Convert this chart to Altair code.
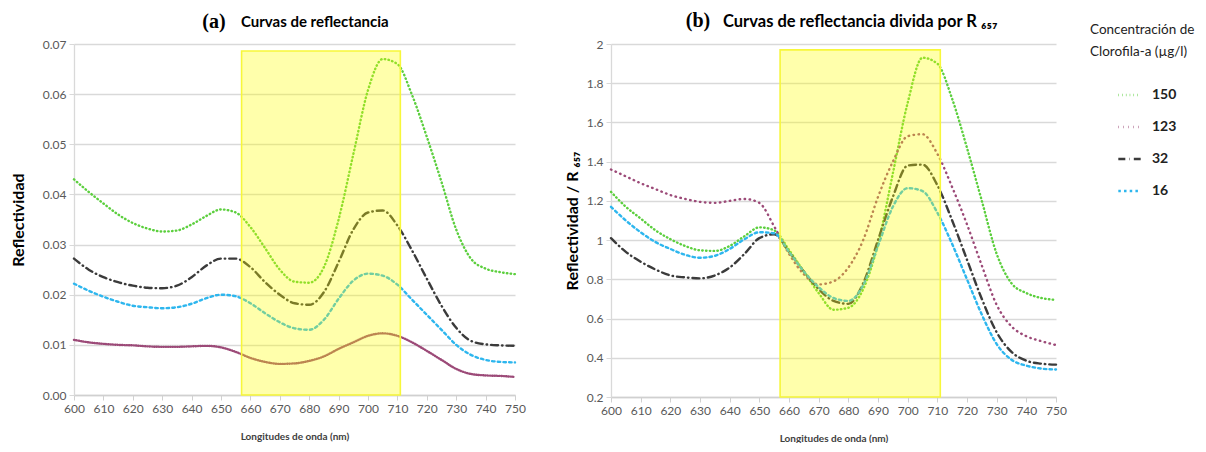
import altair as alt
import pandas as pd

# ---------------- data ----------------
wavelengths = list(range(600, 755, 5))
series_order = ["150", "123", "32", "16"]
series_colors = ["#5CCF3E", "#9C4A78", "#3B3B3B", "#2DB6EE"]
series_dashes = [[0.5, 3.3], [0.5, 4.5], [7, 4, 0.5, 4], [2.5, 3.2]]
dense_dash_123 = [0.5, 1.8]

# panel (a): reflectance
refl_150 = [0.0430, 0.0405, 0.0382, 0.0360, 0.0343, 0.0332, 0.0326, 0.0328, 0.0340, 0.0357,
            0.0370, 0.0364, 0.0335, 0.0293, 0.0250, 0.0226, 0.0224, 0.0255, 0.0350, 0.0480,
            0.0608, 0.0670, 0.0660, 0.0598, 0.0515, 0.0425, 0.0330, 0.0272, 0.0252, 0.0245, 0.0241]
refl_123 = [0.0110, 0.0105, 0.0102, 0.0100, 0.0099, 0.0097, 0.0096, 0.0096, 0.0097, 0.0098,
            0.0095, 0.0086, 0.0074, 0.0066, 0.0062, 0.0063, 0.0068, 0.0077, 0.0092, 0.0105,
            0.0118, 0.0123, 0.0118, 0.0105, 0.0088, 0.0070, 0.0052, 0.0042, 0.0039, 0.0038, 0.0036]
refl_32 = [0.0272, 0.0250, 0.0235, 0.0225, 0.0218, 0.0214, 0.0213, 0.0218, 0.0235, 0.0258,
           0.0272, 0.0272, 0.0255, 0.0225, 0.0200, 0.0183, 0.0180, 0.0205, 0.0265, 0.0330,
           0.0364, 0.0368, 0.0338, 0.0288, 0.0232, 0.0178, 0.0134, 0.0108, 0.0101, 0.0099, 0.0098]
refl_16 = [0.0222, 0.0208, 0.0196, 0.0186, 0.0178, 0.0175, 0.0173, 0.0175, 0.0182, 0.0193,
           0.0200, 0.0197, 0.0183, 0.0163, 0.0145, 0.0133, 0.0130, 0.0150, 0.0192, 0.0228,
           0.0242, 0.0238, 0.0220, 0.0190, 0.0160, 0.0130, 0.0100, 0.0080, 0.0070, 0.0066, 0.0065]

# panel (b): reflectance / R657
ratio_150 = [1.246, 1.17, 1.11, 1.05, 1.005, 0.97, 0.948, 0.945, 0.97, 1.02,
             1.065, 1.05, 0.95, 0.84, 0.73, 0.645, 0.655, 0.75, 0.98, 1.34,
             1.70, 1.93, 1.90, 1.72, 1.47, 1.20, 0.93, 0.78, 0.73, 0.705, 0.695]
ratio_123 = [1.36, 1.325, 1.29, 1.26, 1.23, 1.21, 1.195, 1.19, 1.20, 1.21,
             1.19, 1.07, 0.93, 0.826, 0.774, 0.79, 0.86, 1.00, 1.22, 1.40,
             1.53, 1.54, 1.44, 1.27, 1.08, 0.87, 0.67, 0.56, 0.51, 0.485, 0.465]
ratio_32 = [1.01, 0.94, 0.89, 0.85, 0.82, 0.81, 0.805, 0.82, 0.86, 0.93,
            1.01, 1.03, 0.94, 0.84, 0.75, 0.69, 0.675, 0.78, 1.00, 1.22,
            1.38, 1.385, 1.28, 1.10, 0.90, 0.70, 0.53, 0.43, 0.385, 0.37, 0.365]
ratio_16 = [1.17, 1.10, 1.04, 0.99, 0.955, 0.925, 0.91, 0.92, 0.955, 1.005,
            1.04, 1.035, 0.94, 0.84, 0.76, 0.705, 0.69, 0.77, 0.97, 1.17,
            1.265, 1.25, 1.14, 0.98, 0.80, 0.62, 0.47, 0.39, 0.36, 0.345, 0.34]

# highlighted band
box_x = [657, 711]
box_y_a = [0.0, 0.0686]
box_y_b = [0.2, 1.97]

# axis ticks
x_ticks = list(range(600, 751, 10))
y_ticks_a = [0.0, 0.01, 0.02, 0.03, 0.04, 0.05, 0.06, 0.07]
y_ticks_b = [0.2, 0.4, 0.6, 0.8, 1.0, 1.2, 1.4, 1.6, 1.8, 2.0]

# texts
title_a_tag = "(a)"
title_a_text = "Curvas de reflectancia"
title_b_tag = "(b)"
title_b_text = "Curvas de reflectancia divida por R ₆₅₇"
y_title_a = "Reflectividad"
y_title_b = "Reflectividad / R ₆₅₇"
x_title = "Longitudes de onda (nm)"
legend_title = ["Concentración de", "Clorofila-a (µg/l)"]

FONT = "Lato"


def long_df(series_lists):
    rows = []
    for name, vals in zip(series_order, series_lists):
        for w, v in zip(wavelengths, vals):
            rows.append({"wl": w, "val": v, "serie": name})
    return pd.DataFrame(rows)


df_a = long_df([refl_150, refl_123, refl_32, refl_16])
df_b = long_df([ratio_150, ratio_123, ratio_32, ratio_16])

color_enc = alt.Color(
    "serie:N",
    scale=alt.Scale(domain=series_order, range=series_colors),
    sort=series_order,
    title=legend_title,
)
dash_enc = alt.StrokeDash(
    "serie:N",
    scale=alt.Scale(domain=series_order, range=series_dashes),
    sort=series_order,
    title=legend_title,
)


def x_axis():
    return alt.Axis(
        values=x_ticks, grid=False, title=x_title, labelAngle=0,
        labelOverlap=False, labelFlush=False,
        tickSize=5, labelPadding=3, titlePadding=17,
        titleFontSize=10, titleFontWeight="bold", titleColor="#404040",
        labelFontSize=12, labelColor="#595959",
        domainColor="#D0D0D0", tickColor="#D0D0D0", domainWidth=1.3,
    )


def y_axis(ticks, fmt, title, title_pad):
    return alt.Axis(
        values=ticks, format=fmt, title=title, grid=True,
        labelOverlap=False, labelFlush=False,
        gridColor="#D9D9D9", gridWidth=1.4,
        tickSize=5, labelPadding=3, titlePadding=title_pad,
        titleFontSize=16, titleFontWeight="bold", titleColor="#000000",
        labelFontSize=12, labelColor="#595959",
        domainColor="#D9D9D9", tickColor="#D9D9D9", domainWidth=1.3,
    )


def make_panel(df, dense_df, ydomain, ticks, fmt, ytitle, title_pad, box_y, texts, width, height):
    xs = alt.Scale(domain=[600, 750], nice=False)
    ys = alt.Scale(domain=ydomain, nice=False, zero=False)
    xa = x_axis()
    ya = y_axis(ticks, fmt, ytitle, title_pad)

    layers = []
    base_mark = dict(interpolate="monotone", strokeWidth=2.4, strokeCap="round")
    layers.append(
        alt.Chart(df).mark_line(**base_mark).encode(
            x=alt.X("wl:Q", scale=xs, axis=xa),
            y=alt.Y("val:Q", scale=ys, axis=ya),
            color=color_enc, strokeDash=dash_enc, detail="serie:N",
        )
    )
    if dense_df is not None:
        layers.append(
            alt.Chart(dense_df).mark_line(strokeDash=dense_dash_123, **base_mark).encode(
                x=alt.X("wl:Q", scale=xs, axis=xa),
                y=alt.Y("val:Q", scale=ys, axis=ya),
                color=color_enc, detail="serie:N",
            )
        )
    bdf = pd.DataFrame({"x0": [box_x[0]], "x1": [box_x[1]], "y0": [box_y[0]], "y1": [box_y[1]]})
    layers.append(
        alt.Chart(bdf).mark_rect(
            fill="#FFFF00", fillOpacity=0.33, stroke="#F7F73A", strokeWidth=1.6
        ).encode(
            x=alt.X("x0:Q", scale=xs, axis=xa), x2="x1:Q",
            y=alt.Y("y0:Q", scale=ys, axis=ya), y2="y1:Q",
        )
    )
    for txt, x, y, size, font, align in texts:
        layers.append(
            alt.Chart(pd.DataFrame({"t": [txt]})).mark_text(
                font=font, fontSize=size, fontWeight="bold", align=align,
                baseline="alphabetic", color="#000000"
            ).encode(text="t:N", x=alt.value(x), y=alt.value(y))
        )
    return alt.layer(*layers).properties(width=width, height=height)


panel_a = make_panel(
    df_a[df_a["serie"] != "123"], df_a[df_a["serie"] == "123"],
    [0, 0.07], y_ticks_a, ".2f", y_title_a, 16, box_y_a,
    [(title_a_tag, 140, -16, 20, "Liberation Serif", "center"),
     (title_a_text, 167, -17, 15, FONT, "left")],
    441, 351,
)

panel_b = make_panel(
    df_b, None,
    [0.2, 2.0], y_ticks_b, "~g", y_title_b, 6, box_y_b,
    [(title_b_tag, 87, -17, 20, "Liberation Serif", "center"),
     (title_b_text, 112, -17, 16.5, FONT, "left")],
    445, 353,
)

chart = alt.hconcat(panel_a, panel_b, spacing=38).properties(
    padding={"left": 2, "top": 3, "right": 0, "bottom": 0}
).configure(font=FONT).configure_view(stroke=None).configure_legend(
    orient="none", legendX=1016, legendY=-21, symbolType="stroke", symbolSize=500,
    symbolStrokeWidth=2.4, symbolOffset=27, labelFontSize=14, labelFontWeight="bold",
    labelColor="#222222", titleFontSize=13.5, titleFontWeight="normal", titleColor="#222222",
    titleLineHeight=22, titlePadding=24, rowPadding=12, labelOffset=10,
)

chart.save("out.html", embed_options={"renderer": "svg", "actions": False})
